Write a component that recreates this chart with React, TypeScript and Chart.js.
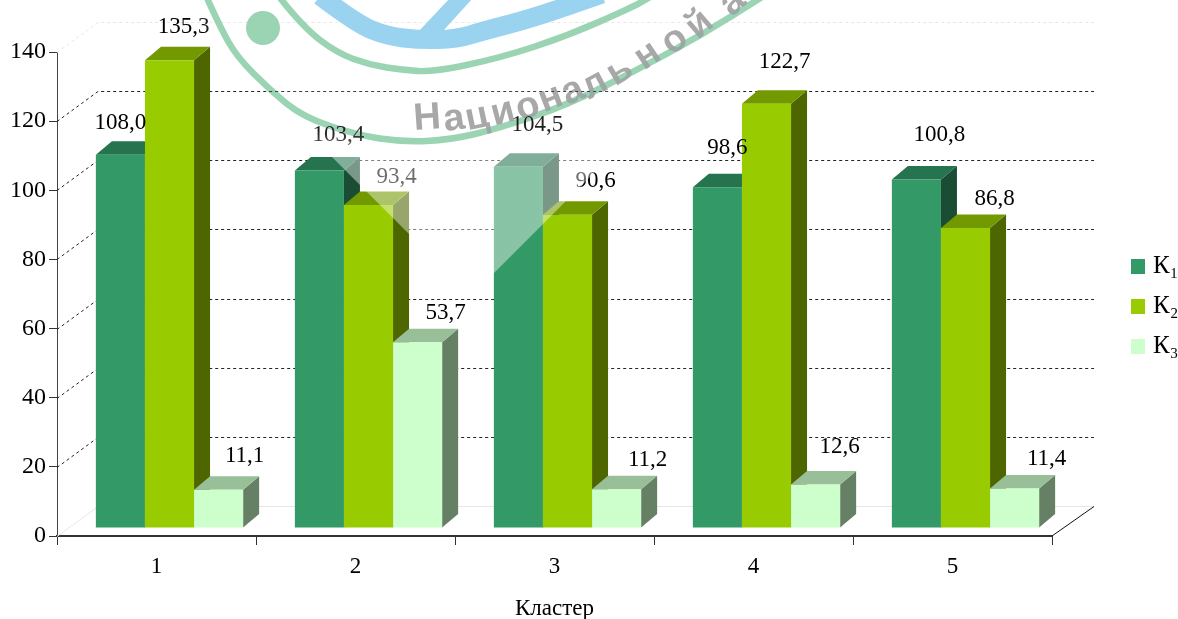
import React, { useEffect, useRef } from "react";
import { Chart, registerables } from "chart.js";

Chart.register(...registerables);

const clusters = ["1", "2", "3", "4", "5"];
const seriesNames = ["К₁", "К₂", "К₃"];
const k1Values = [108.0, 103.4, 104.5, 98.6, 100.8];
const k2Values = [135.3, 93.4, 90.6, 122.7, 86.8];
const k3Values = [11.1, 53.7, 11.2, 12.6, 11.4];
const frontColors = ["#339966", "#99CC00", "#CCFFCC"];
const sideColors = ["#1A4D33", "#4D6600", "#668066"];
const topColors = ["#267350", "#739900", "#99BF99"];

// Label placement relative to the top centre of each bar: [dx, dy]
const labelNudges = [
  [[0, -32], [19, -36], [19, -42], [10, -39], [23, -45]],
  [[14, -33], [28, -28], [28, -34], [18, -42], [29, -29]],
  [[26, -34], [28, -29], [31, -29], [24, -37], [32, -30]],
];

const SERIF = "'Liberation Serif', serif";
const FRONT_SHIFT = { x: 13, y: -8 };
const BAR_DEPTH = { x: 16, y: -13.5 };
const WALL_DEPTH = { x: 41, y: -30.5 };

// Seal printed across the upper part of the figure
const sealRingOuter = [[207, -2], [220, 27], [237, 57], [270, 90], [303, 117], [357, 135], [403, 142], [450, 140], [500, 128], [567, 105], [633, 72], [700, 36], [762, -3]];
const sealRingInner = [[280, -2], [303, 27], [337, 53], [370, 65], [403, 70], [433, 72], [500, 58], [567, 36], [633, 7], [650, -3]];
const sealArc = [[320, -4], [357, 24], [387, 36], [420, 40], [457, 39], [483, 31], [533, 18], [602, -6]];
const sealPointer = [[419, 31], [450, -2], [473, -2], [443, 31]];
const sealLetters: [string, number, number, number][] = [
  ["Н", 427, 115, -4], ["а", 454, 120, -8], ["ц", 477, 118, -12], ["и", 503, 113, -15],
  ["о", 528, 108, -18], ["н", 551, 99, -21], ["а", 573, 92, -25], ["л", 595, 85, -28],
  ["ь", 620, 72, -31], ["н", 648, 56, -34], ["о", 675, 41, -38], ["й", 700, 25, -41], ["а", 733, 3, -44],
];

function polygon(ctx: CanvasRenderingContext2D, points: number[][], fill: string) {
  ctx.beginPath();
  points.forEach(([x, y], i) => (i ? ctx.lineTo(x, y) : ctx.moveTo(x, y)));
  ctx.closePath();
  ctx.fillStyle = fill;
  ctx.fill();
}

function smoothStroke(ctx: CanvasRenderingContext2D, pts: number[][], color: string, width: number) {
  ctx.beginPath();
  ctx.moveTo(pts[0][0], pts[0][1]);
  for (let i = 1; i < pts.length - 1; i++) {
    const mx = (pts[i][0] + pts[i + 1][0]) / 2;
    const my = (pts[i][1] + pts[i + 1][1]) / 2;
    ctx.quadraticCurveTo(pts[i][0], pts[i][1], mx, my);
  }
  const last = pts[pts.length - 1];
  ctx.lineTo(last[0], last[1]);
  ctx.strokeStyle = color;
  ctx.lineWidth = width;
  ctx.stroke();
}

// Back wall, floor and the extruded bars
const boxPlugin = {
  id: "box",
  beforeDatasetsDraw(chart: any) {
    const { ctx, chartArea, scales } = chart;
    const y = scales.y;
    ctx.save();
    ctx.lineWidth = 1;
    y.ticks.forEach((t: any) => {
      const py = Math.round(y.getPixelForValue(t.value)) + 0.5;
      const faint = t.value === 0 || t.value === 140;
      const by = Math.round(py + WALL_DEPTH.y) + 0.5;
      ctx.strokeStyle = faint ? "#E6E6E6" : "#222222";
      ctx.setLineDash(faint && t.value === 0 ? [] : [3, 3]);
      ctx.beginPath();
      ctx.moveTo(chartArea.left, py);
      ctx.lineTo(chartArea.left + WALL_DEPTH.x, by);
      ctx.lineTo(chartArea.right + WALL_DEPTH.x + 1, by);
      ctx.stroke();
    });
    ctx.setLineDash([]);
    ctx.strokeStyle = "#111111";
    ctx.beginPath();
    ctx.moveTo(chartArea.right, chartArea.bottom);
    ctx.lineTo(chartArea.right + WALL_DEPTH.x + 1, chartArea.bottom + WALL_DEPTH.y + 1);
    ctx.stroke();
    ctx.restore();

    // First series at the back: each one covers the side of the one before it.
    // Bars stand a little in front of the axis plane.
    ctx.save();
    ctx.translate(FRONT_SHIFT.x, FRONT_SHIFT.y);
    chart.data.datasets.forEach((_: any, i: number) => {
      const meta = chart.getDatasetMeta(i);
      meta.data.forEach((bar: any) => {
        const half = bar.width / 2;
        const l = bar.x - half;
        const r = bar.x + half;
        const t = bar.y;
        const b = bar.base;
        const dx = BAR_DEPTH.x;
        const dy = BAR_DEPTH.y;
        polygon(ctx, [[r, t], [r + dx, t + dy], [r + dx, b + dy], [r, b]], sideColors[i]);
        polygon(ctx, [[l, t], [l + dx, t + dy], [r + dx, t + dy], [r, t]], topColors[i]);
      });
      meta.controller.draw();
    });
    ctx.restore();

    // Value labels with a decimal comma
    ctx.save();
    ctx.font = `23px ${SERIF}`;
    ctx.fillStyle = "#000000";
    ctx.textAlign = "center";
    ctx.textBaseline = "middle";
    chart.data.datasets.forEach((ds: any, i: number) => {
      chart.getDatasetMeta(i).data.forEach((bar: any, j: number) => {
        const [dx, dy] = labelNudges[i][j];
        const text = ds.data[j].toFixed(1).replace(".", ",");
        ctx.fillText(text, bar.x + FRONT_SHIFT.x + dx, bar.y + FRONT_SHIFT.y + dy);
      });
    });
    ctx.restore();
    return false;
  },
};

// Translucent seal laid over the drawing
const sealPlugin = {
  id: "seal",
  afterDraw(chart: any) {
    const { ctx } = chart;
    ctx.save();
    const veil = ctx.createLinearGradient(0, 130, 0, 152);
    veil.addColorStop(0, "rgba(255,255,255,0.12)");
    veil.addColorStop(1, "rgba(255,255,255,0.42)");
    ctx.beginPath();
    ctx.moveTo(175, 0);
    ctx.lineTo(471, 296);
    ctx.lineTo(767, 0);
    ctx.closePath();
    ctx.fillStyle = veil;
    ctx.fill();
    ctx.clip();
    // Ink of the seal lets the lines and labels beneath show through
    ctx.globalCompositeOperation = "darken";
    ctx.lineCap = "butt";
    smoothStroke(ctx, sealRingOuter, "#9AD4B3", 6.5);
    smoothStroke(ctx, sealRingInner, "#9AD4B3", 6.5);
    smoothStroke(ctx, sealArc, "#9AD3F0", 19);
    polygon(ctx, sealPointer, "#9AD3F0");
    ctx.beginPath();
    ctx.arc(263, 28, 17, 0, Math.PI * 2);
    ctx.fillStyle = "#9AD4B3";
    ctx.fill();
    ctx.font = "bold 38px 'Liberation Sans', sans-serif";
    ctx.fillStyle = "#A8A8A8";
    ctx.textAlign = "center";
    ctx.textBaseline = "alphabetic";
    sealLetters.forEach(([ch, x, y, deg]) => {
      ctx.save();
      ctx.translate(x, y);
      ctx.rotate((deg * Math.PI) / 180);
      ctx.fillText(ch, 0, ch === "Н" ? 14 : 10);
      ctx.restore();
    });
    ctx.restore();
  },
};

// Legend entries at the right of the plot
const legendPlugin = {
  id: "seriesKey",
  afterDraw(chart: any) {
    const { ctx } = chart;
    ctx.save();
    ctx.textAlign = "left";
    ctx.textBaseline = "alphabetic";
    chart.data.datasets.forEach((ds: any, i: number) => {
      const rowY = 259 + i * 40;
      ctx.fillStyle = ds.backgroundColor;
      ctx.fillRect(1131, rowY, 14, 15);
      ctx.fillStyle = "#000000";
      ctx.font = `25px ${SERIF}`;
      ctx.fillText(ds.label, 1153, rowY + 14);
    });
    ctx.restore();
  },
};

export default function App() {
  const ref = useRef<HTMLCanvasElement>(null);

  useEffect(() => {
    document.body.style.margin = "0";
    const chart = new Chart(ref.current!, {
      type: "bar",
      data: {
        labels: clusters,
        datasets: [k1Values, k2Values, k3Values].map((data, i) => ({
          label: seriesNames[i],
          data,
          backgroundColor: frontColors[i],
          clip: false as any,
          barPercentage: 1,
          categoryPercentage: 0.74,
        })),
      },
      options: {
        animation: false,
        responsive: false,
        layout: { padding: { top: 52, right: 126, left: 0, bottom: 0 } },
        plugins: { legend: { display: false }, tooltip: { enabled: false } },
        scales: {
          x: {
            afterFit: (s: any) => { s.height = 83; },
            grid: { drawOnChartArea: false, color: "#333333", tickLength: 9, offset: true },
            border: { color: "#333333", width: 2 },
            ticks: { color: "#000000", padding: 8, font: { family: SERIF, size: 23 } },
            title: {
              display: true,
              text: "Кластер",
              color: "#000000",
              padding: { top: 0, bottom: -4 },
              font: { family: SERIF, size: 23 },
            },
          },
          y: {
            min: 0,
            max: 140,
            afterFit: (s: any) => { s.width = 57; },
            grid: { drawOnChartArea: false, color: "#333333", tickLength: 8 },
            border: { color: "#444444", width: 1 },
            ticks: { stepSize: 20, color: "#000000", padding: 3, font: { family: SERIF, size: 24 } },
          },
        },
      },
      plugins: [boxPlugin, sealPlugin, legendPlugin],
    } as any);
    return () => chart.destroy();
  }, []);

  return <canvas ref={ref} width={1178} height={619} style={{ display: "block" }} />;
}
